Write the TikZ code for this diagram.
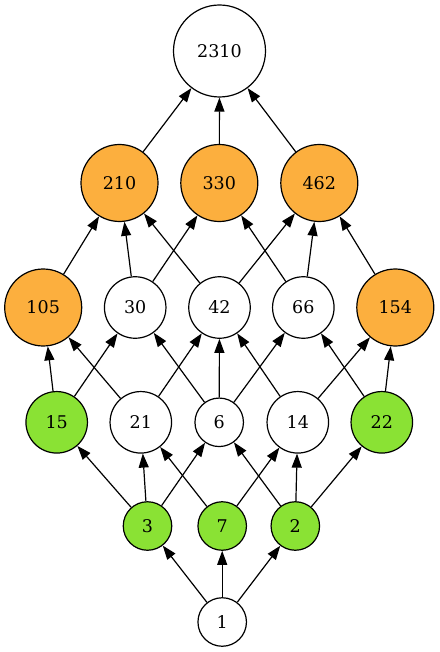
\documentclass[tikz,border=0pt]{standalone}
\usepackage{fontspec}
\setmainfont{DejaVu Serif}
\usetikzlibrary{arrows.meta}
\definecolor{orangefill}{HTML}{FCAF3E}
\definecolor{greenfill}{HTML}{8AE234}
\begin{document}
\begin{tikzpicture}[x=1pt,y=-1pt,
  nd/.style={circle,draw=black,line width=1.2pt,fill=white,inner sep=0pt,font=\fontsize{17.5}{20}\selectfont},
  d1/.style={nd,minimum size=48.5pt},
  d2/.style={nd,minimum size=61.5pt},
  d3/.style={nd,minimum size=77pt},
  d4/.style={nd,minimum size=92pt},
  org/.style={fill=orangefill},
  grn/.style={fill=greenfill},
  arr/.style={-{Triangle[length=14pt,width=10pt]},line width=1.2pt}]
\useasboundingbox (0,0) rectangle (439,652);
\node[d4] (n2310) at (219.5,51) {2310};
\node[d3,org] (n210) at (119.5,183) {210};
\node[d3,org] (n330) at (219.3,183) {330};
\node[d3,org] (n462) at (319.3,183) {462};
\node[d3,org] (n105) at (43.2,307.5) {105};
\node[d2] (n30) at (135.2,307.5) {30};
\node[d2] (n42) at (219.5,307.5) {42};
\node[d2] (n66) at (303.3,307.5) {66};
\node[d3,org] (n154) at (395.3,307.5) {154};
\node[d2,grn] (n15) at (56.7,422.3) {15};
\node[d2] (n21) at (140.8,422.3) {21};
\node[d1] (n6) at (219.2,422.3) {6};
\node[d2] (n14) at (297.8,422.3) {14};
\node[d2,grn] (n22) at (381.8,422.3) {22};
\node[d1,grn] (n3) at (147.5,526) {3};
\node[d1,grn] (n7) at (222.2,526) {7};
\node[d1,grn] (n2) at (295.3,526) {2};
\node[d1] (n1) at (222.2,622) {1};
\foreach \a/\b in {1/3,1/7,1/2,
  3/15,3/21,3/6,7/21,7/14,2/6,2/14,2/22,
  15/105,15/30,21/105,21/42,6/30,6/42,6/66,14/42,14/154,22/66,22/154,
  105/210,30/210,30/330,42/210,42/462,66/330,66/462,154/462,
  210/2310,330/2310,462/2310}
  \draw[arr] (n\a) -- (n\b);
\end{tikzpicture}
\end{document}
